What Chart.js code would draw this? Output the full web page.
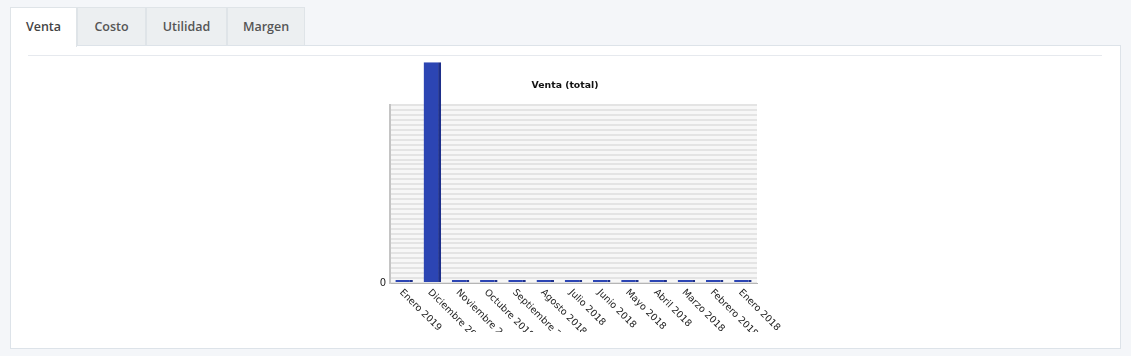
<!DOCTYPE html>
<html><head><meta charset="utf-8">
<script src="https://cdn.jsdelivr.net/npm/chart.js@4.4.1/dist/chart.umd.min.js"></script>
<style>
html,body{margin:0;padding:0;background:#f4f6f9;width:1131px;height:356px;overflow:hidden;font-family:"Open Sans",Lato,sans-serif;}
.tab{position:absolute;top:7px;height:38px;line-height:38px;text-align:center;font-size:12.5px;font-weight:600;color:#555;background:#eceff1;border:1px solid #dfe4e8;border-bottom:none;box-sizing:border-box;}
.tab.active{background:#fff;color:#444;height:40px;z-index:2;}
#panel{position:absolute;left:10px;top:45px;width:1111px;height:304px;background:#fff;border:1px solid #dde3e9;box-sizing:border-box;}
#hr{position:absolute;left:28px;top:55px;width:1074px;height:1px;background:#e6e9ee;}
#wrap{position:absolute;left:355px;top:58px;width:430px;height:274px;}
</style></head>
<body>
<div id="panel"></div>
<div class="tab active" style="left:10px;width:67px;">Venta</div>
<div class="tab" style="left:77px;width:69px;">Costo</div>
<div class="tab" style="left:146px;width:81px;">Utilidad</div>
<div class="tab" style="left:227px;width:78px;">Margen</div>
<div id="hr"></div>
<div id="wrap"><canvas id="c" width="430" height="274"></canvas></div>
<script>
const categories = ["Enero 2019","Diciembre 2018","Noviembre 2018","Octubre 2018","Septiembre 2018","Agosto 2018","Julio 2018","Junio 2018","Mayo 2018","Abril 2018","Marzo 2018","Febrero 2018","Enero 2018"];
const ventaValues = [0.6, 44.7, 0.6, 0.6, 0.6, 0.6, 0.6, 0.6, 0.6, 0.6, 0.6, 0.6, 0.6];
const yTickLabels = ["0"];
const chartTitle = "Venta (total)";

const bgPlugin = {
  id:'bg',
  beforeDraw(chart){
    const {ctx, chartArea:a} = chart;
    ctx.save(); ctx.fillStyle='#f7f7f7';
    ctx.fillRect(a.left,a.top,a.right-a.left,a.bottom-a.top); ctx.restore();
  }
};
const xLabelPlugin = {
  id:'xlabels',
  afterDraw(chart){
    const {ctx, chartArea:a} = chart;
    const xs = chart.scales.x;
    ctx.save();
    ctx.font = '9.5px "DejaVu Sans", sans-serif';
    ctx.fillStyle = '#222';
    ctx.textAlign='left'; ctx.textBaseline='middle';
    categories.forEach((c,i)=>{
      const px = xs.getPixelForValue(i);
      ctx.save();
      ctx.translate(px-3, a.bottom+8);
      ctx.rotate(Math.PI/4);
      ctx.fillText(c,0,0);
      ctx.restore();
    });
    ctx.restore();
  }
};

new Chart(document.getElementById('c'), {
  type:'bar',
  data:{labels:categories, datasets:[{
    data:ventaValues,
    backgroundColor:'#2c45b3',
    borderColor:'#1d2f8a',
    borderWidth:{top:0,left:0,bottom:0,right:3},
    borderSkipped:false,
    barPercentage:0.62, categoryPercentage:1,
    clip:false
  }]},
  options:{
    responsive:false, animation:false,
    layout:{padding:{top:0,right:28,left:18,bottom:0}},
    plugins:{
      legend:{display:false}, tooltip:{enabled:false},
      title:{display:true,text:chartTitle,color:'#111',
        font:{family:'"DejaVu Sans", sans-serif',size:9.3,weight:'bold'},
        padding:{top:22,bottom:14}}
    },
    scales:{
      x:{
        ticks:{display:false},
        grid:{display:false, drawTicks:false},
        border:{display:true,color:'#b5b5b5',width:1},
        afterFit(s){ s.height = 49; }
      },
      y:{
        min:0, max:36,
        ticks:{stepSize:1, padding:4, autoSkip:false, color:'#222',
          font:{family:'"DejaVu Sans", sans-serif',size:10},
          callback:(v)=> v===0 ? yTickLabels[0] : ''},
        grid:{color:'#e4e4e4', lineWidth:2, drawTicks:false},
        border:{display:true,color:'#c4c4c4',width:2},
        afterFit(s){ s.width = 17; }
      }
    }
  },
  plugins:[bgPlugin, xLabelPlugin]
});
</script>
</body></html>
